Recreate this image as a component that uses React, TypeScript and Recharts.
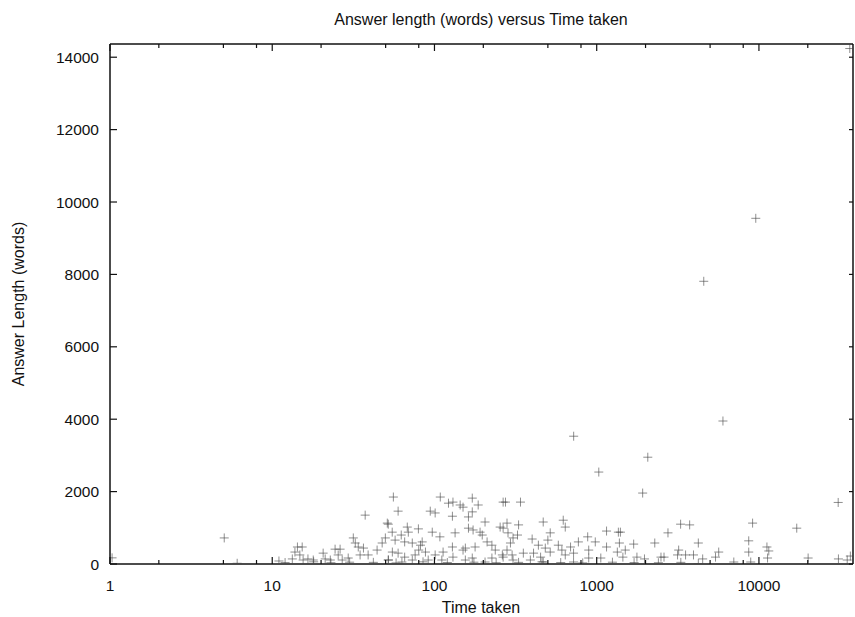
import { ScatterChart, Scatter, XAxis, YAxis } from 'recharts';

// time taken (x) and answer length in words (y)
const timeTaken = [
  36300, 9560, 4570, 6000, 721, 2065, 1030, 1920, 30800, 17100, 9140, 1.03, 5.06, 6.08,
  11.0, 14.3, 15.3, 13.8, 14.8, 13.3, 15.5, 16.6, 17.9, 20.6, 21.2, 22.8, 24.4, 26.2, 25.5,
  27.0, 29.4, 31.6, 32.5, 33.9, 36.5, 34.8, 37.4, 39.0, 44.3, 47.6, 51.2, 49.8, 51.9,
  55.8, 59.7, 51.9, 54.9, 68, 69, 79.6, 62.4, 57.2, 65.5, 73, 84, 96.9, 94.2, 101, 108.6,
  122, 130, 144, 150, 171, 186, 129, 171, 162, 205, 134, 108, 162, 173, 191, 197, 254, 265,
  211, 226, 237, 178, 155, 129, 130, 113, 101, 88, 80, 76, 65.5, 59.7, 55, 52, 63, 73, 91.5,
  111, 155, 171, 205, 226, 262, 150, 82,
  274, 339, 280, 265, 284, 330, 305, 294, 325, 280, 301, 265, 305, 353, 400, 437, 468, 517,
  500, 482, 517, 408, 451, 390, 468, 622, 640, 580, 610, 640, 690, 720, 771, 880, 893, 980,
  1150, 1360, 1150, 1340, 1060, 893, 720,
  1400, 1380, 1690, 1500, 1450, 1770, 2280, 2750, 3290, 3740, 4230, 3200, 3150, 3530, 3950,
  2490, 2600, 1970, 4500, 5650, 5400, 4230,
  8650, 8650, 11200, 11500, 11300, 20100, 30900, 36600, 35000, 7000, 8900,
  12, 18, 23, 30, 42, 58, 85, 120, 175, 240, 330, 460, 600, 820, 1250, 1700, 2400, 3300,
];

const answerWords = [
  14240, 9550, 7810, 3950, 3530, 2950, 2540, 1960, 1700, 990, 1130, 170, 720, 20,
  83, 470, 470, 330, 250, 140, 110, 140, 110, 300, 140, 110, 410, 410, 250,
  110, 165, 720, 580, 470, 440, 250, 1350, 250, 385, 580, 1130, 720, 110,
  1850, 1460, 1100, 880, 1020, 880, 970, 800, 660, 610, 580, 610, 880, 1460, 1410, 1850,
  1680, 1710, 1630, 1570, 1820, 1630, 1320, 1440, 1300, 1160, 860, 750, 990, 940, 880, 800, 1020, 1710,
  610, 520, 385, 470, 440, 470, 190, 330, 250, 330, 385, 250, 190, 300, 330, 110, 55, 110, 110,
  110, 110, 165, 55, 165, 250, 385, 520,
  1710, 1710, 1130, 990, 860, 1080, 720, 580, 800, 385, 250, 190, 110, 300, 690, 520, 1160, 860,
  660, 440, 330, 300, 190, 110, 55, 1210, 1020, 520, 385, 250, 470, 300, 610, 750, 385, 610,
  910, 880, 470, 330, 165, 165, 55,
  880, 580, 550, 385, 190, 190, 580, 860, 1100, 1080, 580, 385, 250, 250, 250,
  190, 190, 140, 140, 330, 190, 10,
  640, 330, 470, 360, 165, 165, 140, 220, 110, 55, 55,
  40, 60, 35, 50, 45, 30, 60, 40, 50, 35, 45, 60, 40, 30, 50, 40, 35, 45,
];

const xMajorTicks = [1, 10, 100, 1000, 10000];
const xMinorSteps = [2, 5, 8];
const yTicks = [0, 2000, 4000, 6000, 8000, 10000, 12000, 14000];

const X_MAX = 38000;
const Y_MAX = 14365;

const xTicks = xMajorTicks.flatMap((m) => [m, ...xMinorSteps.map((s) => m * s)]).filter((v) => v < X_MAX);

const points = timeTaken.map((t, i) => ({ t, w: answerWords[i] }));

const FONT = '"Liberation Sans", Arial, Helvetica, sans-serif';

function BottomTick({ x, y, payload }: any) {
  const major = xMajorTicks.includes(payload.value);
  return (
    <g>
      <line x1={x} x2={x} y1={y} y2={y - (major ? 7 : 4)} stroke="#111" strokeWidth={1.2} />
      {major && (
        <text x={x} y={y + 27} textAnchor="middle" fontSize={15.5} fontFamily={FONT} fill="#111">
          {payload.value}
        </text>
      )}
    </g>
  );
}

function TopTick({ x, y, payload }: any) {
  const major = xMajorTicks.includes(payload.value);
  return <line x1={x} x2={x} y1={y} y2={y + (major ? 7 : 4)} stroke="#111" strokeWidth={1.2} />;
}

function LeftTick({ x, y, payload }: any) {
  return (
    <g>
      <line x1={x} x2={x + 7} y1={y} y2={y} stroke="#111" strokeWidth={1.2} />
      <text x={x - 11} y={y + 5.5} textAnchor="end" fontSize={15.5} fontFamily={FONT} fill="#111">
        {payload.value}
      </text>
    </g>
  );
}

function RightTick({ x, y }: any) {
  return <line x1={x} x2={x - 4} y1={y} y2={y} stroke="#111" strokeWidth={1.2} />;
}

function Cross({ cx, cy }: any) {
  if (cx == null || cy == null) return null;
  return (
    <path
      d={`M${cx - 4.5},${cy}h9M${cx},${cy - 4.5}v9`}
      stroke="#444"
      strokeOpacity={0.6}
      strokeWidth={1}
      fill="none"
    />
  );
}

function Nothing() {
  return null;
}

export default function App() {
  return (
    <div style={{ position: 'absolute', left: 0, top: 0, width: 855, height: 617, background: '#fff' }}>
      <ScatterChart width={855} height={617} margin={{ top: 43, right: 1, bottom: 23, left: 50 }}>
        <XAxis
          xAxisId="b"
          dataKey="t"
          type="number"
          scale="log"
          domain={[1, X_MAX]}
          allowDataOverflow
          ticks={xTicks}
          interval={0}
          tickSize={0}
          tickMargin={0}
          tickLine={false}
          tick={<BottomTick />}
          height={30}
          axisLine={{ stroke: '#111', strokeWidth: 1.5 }}
        />
        <XAxis
          xAxisId="t"
          dataKey="t"
          orientation="top"
          type="number"
          scale="log"
          domain={[1, X_MAX]}
          allowDataOverflow
          ticks={xTicks}
          interval={0}
          tickSize={0}
          tickMargin={0}
          tickLine={false}
          tick={<TopTick />}
          height={1}
          axisLine={{ stroke: '#111', strokeWidth: 1.5 }}
        />
        <YAxis
          yAxisId="l"
          dataKey="w"
          type="number"
          domain={[0, Y_MAX]}
          allowDataOverflow
          ticks={yTicks}
          interval={0}
          tickSize={0}
          tickMargin={0}
          tickLine={false}
          tick={<LeftTick />}
          width={60}
          axisLine={{ stroke: '#111', strokeWidth: 1.5 }}
        />
        <YAxis
          yAxisId="r"
          dataKey="w"
          orientation="right"
          type="number"
          domain={[0, Y_MAX]}
          allowDataOverflow
          ticks={yTicks}
          interval={0}
          tickSize={0}
          tickMargin={0}
          tickLine={false}
          tick={<RightTick />}
          width={1}
          axisLine={{ stroke: '#111', strokeWidth: 1.5 }}
        />
        <Scatter data={points} xAxisId="t" yAxisId="r" shape={<Nothing />} isAnimationActive={false} />
        <Scatter data={points} xAxisId="b" yAxisId="l" shape={<Cross />} isAnimationActive={false} />
      </ScatterChart>
      <svg
        width={855}
        height={617}
        style={{ position: 'absolute', left: 0, top: 0, pointerEvents: 'none' }}
      >
        <text x={481} y={25} textAnchor="middle" fontSize={16} fontFamily={FONT} fill="#111">
          Answer length (words) versus Time taken
        </text>
        <text x={481} y={613} textAnchor="middle" fontSize={16} fontFamily={FONT} fill="#111">
          Time taken
        </text>
        <text
          x={0}
          y={0}
          transform="translate(24,304) rotate(-90)"
          textAnchor="middle"
          fontSize={16}
          fontFamily={FONT}
          fill="#111"
        >
          Answer Length (words)
        </text>
      </svg>
    </div>
  );
}
